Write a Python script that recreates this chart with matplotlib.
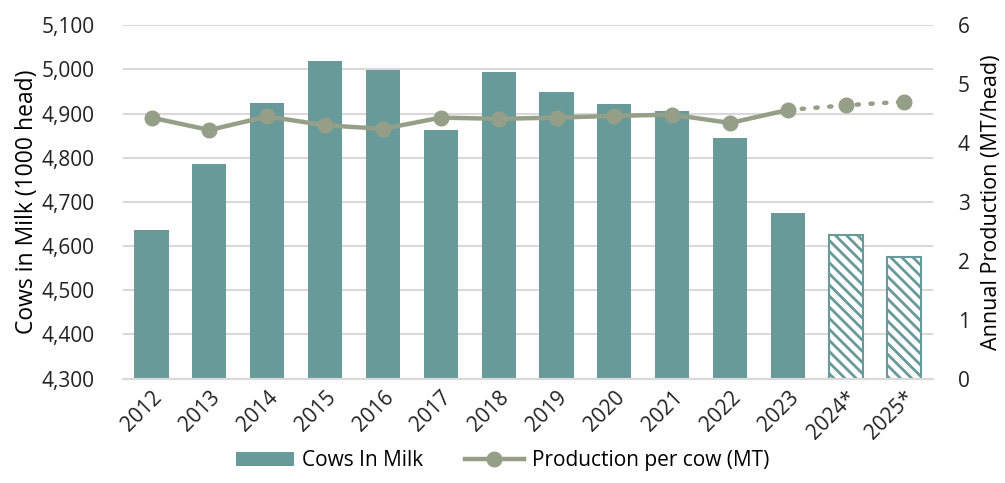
import matplotlib
matplotlib.use('Agg')
import matplotlib.pyplot as plt
import matplotlib.ticker as mticker
from matplotlib.lines import Line2D
from matplotlib.patches import Patch
import numpy as np

plt.rcParams['font.family'] = ['Open Sans', 'DejaVu Sans']
plt.rcParams['hatch.linewidth'] = 2.0

years = ['2012', '2013', '2014', '2015', '2016', '2017', '2018', '2019',
         '2020', '2021', '2022', '2023', '2024*', '2025*']
cows = [4636, 4785, 4924, 5019, 4999, 4863, 4994, 4948, 4922, 4905, 4844,
        4676, 4626, 4575]
prod_per_cow = [4.43, 4.22, 4.45, 4.30, 4.24, 4.43, 4.41, 4.43, 4.46, 4.48,
                4.34, 4.56, 4.64, 4.70]
n_actual = 12  # 2012-2023 actual, rest forecast

BAR = '#689a9a'
LINE = '#959f88'
GRID = '#d9d9d9'

fig = plt.figure(figsize=(10.05, 4.83), dpi=100)
ax = fig.add_axes([0.122, 0.216, 0.806, 0.732])
ax2 = ax.twinx()

x = np.arange(len(years))
ax.bar(x[:n_actual], cows[:n_actual], width=0.59, color=BAR, zorder=2)
ax.bar(x[n_actual:], cows[n_actual:], width=0.59, facecolor='white',
       edgecolor=BAR, hatch='\\\\\\', linewidth=1.5, zorder=2)

ax.set_ylim(4300, 5100)
ax.set_yticks(np.arange(4300, 5101, 100))
ax.yaxis.set_major_formatter(mticker.StrMethodFormatter('{x:,.0f}'))
ax.set_xlim(-0.5, len(years) - 0.5)
ax.set_xticks(x)
ax.set_xticklabels(years, rotation=45, ha='right', rotation_mode='anchor')
ax.grid(axis='y', color=GRID, linewidth=1.5, zorder=0)
ax.set_axisbelow(True)
ax.set_ylabel('Cows in Milk (1000 head)', fontsize=16.5, labelpad=2)

ax2.plot(x[:n_actual], prod_per_cow[:n_actual], color=LINE, linewidth=3.2,
         marker='o', markersize=10.5, zorder=4)
ax2.plot(x[n_actual - 1:], prod_per_cow[n_actual - 1:], color=LINE,
         linewidth=3.2, linestyle=(0, (0.5, 2.6)), dash_capstyle='round',
         marker='o', markersize=10.5, markevery=[1, 2], zorder=4)
ax2.set_ylim(0, 6)
ax2.set_yticks(range(0, 7))
ax2.set_ylabel('Annual Production (MT/head)', fontsize=15.5, labelpad=8)

for a in (ax, ax2):
    for s in ('top', 'left', 'right'):
        a.spines[s].set_visible(False)
    a.spines['bottom'].set_color(GRID)
    a.spines['bottom'].set_linewidth(1.5)
    a.tick_params(length=0, labelsize=15, colors='#222222')
ax.tick_params(axis='y', pad=20)
ax.tick_params(axis='x', pad=6)
ax2.tick_params(axis='y', pad=18)

handles = [Patch(facecolor=BAR, label='Cows In Milk'),
           Line2D([0], [0], color=LINE, linewidth=3.2, marker='o',
                  markersize=10.5, label='Production per cow (MT)')]
fig.legend(handles=handles, loc='lower center', ncol=2, frameon=False,
           fontsize=15, bbox_to_anchor=(0.5, -0.015), handlelength=2.8,
           columnspacing=2.0, handletextpad=0.4)

fig.savefig('out.png', dpi=100)
